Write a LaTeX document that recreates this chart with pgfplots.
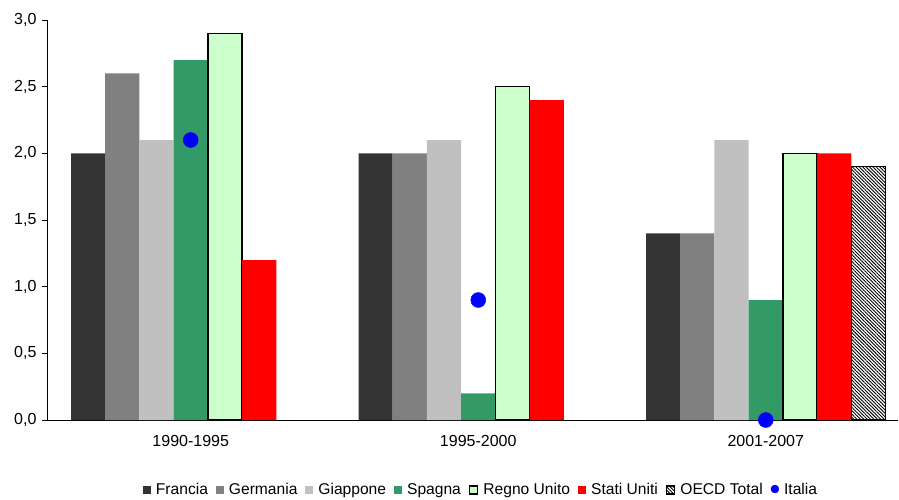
\documentclass[border=0pt]{standalone}
\usepackage{pgfplots}
\pgfplotsset{compat=1.18}
\usepackage{fontspec}
\setmainfont{Liberation Sans}
\usetikzlibrary{patterns.meta}
\definecolor{cFr}{HTML}{333333}
\definecolor{cGe}{HTML}{808080}
\definecolor{cGi}{HTML}{C0C0C0}
\definecolor{cSp}{HTML}{339966}
\definecolor{cRU}{HTML}{CCFFCC}
\definecolor{cSU}{HTML}{FF0000}
\definecolor{cIt}{HTML}{0000FF}
\begin{document}
\begin{tikzpicture}
\begin{axis}[
  scale only axis, width=851pt, height=400pt,
  xmin=-0.5, xmax=2.46, ymin=0, ymax=3,
  axis x line*=bottom, axis y line*=left,
  axis line style={line width=0.8pt},
  xtick={0,1,2}, xticklabels={1990-1995,1995-2000,2001-2007},
  x tick style={draw=none},
  ytick={0,0.5,1,1.5,2,2.5,3},
  tick align=outside, major tick length=5pt,
  y tick style={line width=0.8pt,black},
  /pgf/number format/.cd, use comma, fixed, fixed zerofill, precision=1, assume math mode=true,
  /pgfplots/.cd,
  tick label style={font=\fontsize{16}{19}\selectfont},
  yticklabel style={xshift=-2pt},
  xticklabel style={yshift=-7pt},
  clip=false,
  legend style={at={(0.510,-0.175)}, anchor=center, draw=none, fill=none,
    font=\fontsize{15.6}{18}\selectfont,
    /tikz/every even column/.append style={column sep=6pt},
    /tikz/every odd column/.append style={column sep=3pt}},
  legend columns=-1,
  legend image code/.code={\path[#1] (0pt,-4pt) rectangle (8pt,4pt);},
]
\addplot[ybar, bar width=0.119, bar shift=-0.357, fill=cFr, draw=none]
  coordinates {(0,2.0) (1,2.0) (2,1.4)};
\addlegendentry{Francia}
\addplot[ybar, bar width=0.119, bar shift=-0.238, fill=cGe, draw=none]
  coordinates {(0,2.6) (1,2.0) (2,1.4)};
\addlegendentry{Germania}
\addplot[ybar, bar width=0.119, bar shift=-0.119, fill=cGi, draw=none]
  coordinates {(0,2.1) (1,2.1) (2,2.1)};
\addlegendentry{Giappone}
\addplot[ybar, bar width=0.119, bar shift=0, fill=cSp, draw=none]
  coordinates {(0,2.7) (1,0.2) (2,0.9)};
\addlegendentry{Spagna}
\addplot[ybar, bar width=0.119, bar shift=0.119, fill=cRU, draw=black, line width=1.5pt]
  coordinates {(0,2.9) (1,2.5) (2,2.0)};
\addlegendentry{Regno Unito}
\addplot[ybar, bar width=0.119, bar shift=0.238, fill=cSU, draw=none]
  coordinates {(0,1.2) (1,2.4) (2,2.0)};
\addlegendentry{Stati Uniti}
\addplot[ybar, bar width=0.119, bar shift=0.357, draw=black, line width=1.5pt,
  pattern={Lines[angle=-45,distance=2.4pt,line width=0.9pt]}, pattern color=black]
  coordinates {(2,1.9)};
\addlegendentry{OECD Total}
\addplot[only marks, mark=*, mark size=7.5pt, color=cIt,
  legend image code/.code={\fill[cIt] (4pt,1pt) circle (4pt);}]
  coordinates {(0,2.1) (1,0.9) (2,0.0)};
\addlegendentry{Italia}
\coordinate (O) at (rel axis cs:0,0);
\end{axis}
\pgfresetboundingbox
\path[use as bounding box] ([shift={(-47pt,-79pt)}]O) rectangle ++(899pt,499pt);
\end{tikzpicture}
\end{document}
